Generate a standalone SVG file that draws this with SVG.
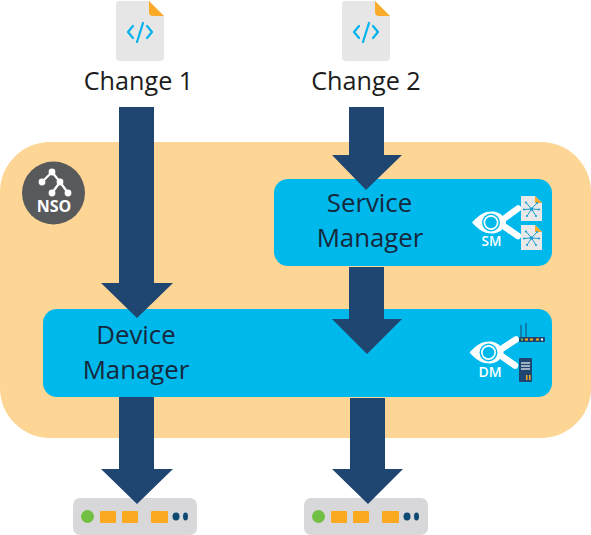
<svg xmlns="http://www.w3.org/2000/svg" width="591" height="535" viewBox="0 0 591 535">
<style>
.arrow{fill:#1f4571}
.mgr{fill:#00b9ec}
.lbl{font-family:"Open Sans","Noto Sans",sans-serif;font-size:25.200px;fill:#1c1c1c;text-anchor:middle}
.mlbl{font-family:"Open Sans","Noto Sans",sans-serif;font-size:25.800px;fill:#15283c;text-anchor:middle}
.tag{font-family:"Open Sans","Liberation Sans",sans-serif;text-anchor:middle;fill:#fff}
.doc{fill:#e6e6e6}.fold{fill:#fbaa2a}
.code{fill:none;stroke:#00b3ec;stroke-width:2.200;stroke-linecap:round;stroke-linejoin:round}
.dev{fill:#d8d8da}.org{fill:#fbaa1f}.dot{fill:#0c4a73}.grn{fill:#72c043}
.w{fill:none;stroke:#fff;stroke-linecap:round}
.sp{fill:none;stroke:#1d9fd0;stroke-width:1}
.spd{fill:#1d9fd0}
</style>
<defs>
<g id="file">
<path class="doc" d="M119 1H149L164 16V57a4 4 0 0 1-4 4H120a4 4 0 0 1-4-4V4a3 3 0 0 1 3-3Z"/>
<path class="fold" d="M149 1L164 16H153a4 4 0 0 1-4-4Z"/>
<path class="code" d="M133 26L128 32L133 38M147 26L152 32L147 38M143 23L137 42"/>
</g>
<g id="device">
<rect class="dev" x="73" y="498" width="124" height="37" rx="7"/>
<circle class="grn" cx="87.500" cy="516.500" r="6.500"/>
<rect class="org" x="100" y="511" width="16" height="12" rx="1"/>
<rect class="org" x="122" y="511" width="16" height="12" rx="1"/>
<rect class="org" x="151" y="511" width="17" height="12" rx="1"/>
<ellipse class="dot" cx="176" cy="516.500" rx="3.500" ry="4"/>
<ellipse class="dot" cx="185.500" cy="516.500" rx="2.500" ry="4"/>
</g>
<g id="eye">
<path d="M-19 0C-12-8-6-11 1-11C6-11 10-9 15-3L15 3C10 9 6 11 1 11C-6 11-12 8-19 0Z" fill="#fff"/>
<circle r="9" fill="#00b9ec"/><circle r="7.500" fill="#fff"/><circle r="5.800" fill="#00b9ec"/>
</g>
<g id="mfile">
<path d="M521 196H535L542 203V221H521Z" fill="#e8e8e8"/>
<path d="M535 196L542 203H535Z" class="fold"/>
<path class="sp" d="M531.500 209L526 202.500M531.500 209L537 203M531.500 209L524 209.500M531.500 209L539 209.500M531.500 209L527 216M531.500 209L536 216"/>
<circle class="spd" cx="531.500" cy="209" r="1.800"/>
<circle class="spd" cx="526" cy="202.500" r="1.100"/><circle class="spd" cx="537" cy="203" r="1.100"/><circle class="spd" cx="524" cy="209.500" r="1.100"/><circle class="spd" cx="539" cy="209.500" r="1.100"/><circle class="spd" cx="527" cy="216" r="1.100"/><circle class="spd" cx="536" cy="216" r="1.100"/>
</g>
</defs>

<g id="nso-platform">
<rect x="0" y="142" width="591" height="296" rx="50" fill="#fdd595"/>
</g>

<g id="nso-badge">
<circle cx="53.500" cy="193" r="31.500" fill="#58595b"/>
<path d="M52 172L42 182M52 172L60 182L68 193M60 182L52 193" fill="none" stroke="#fff" stroke-width="2.200"/>
<circle cx="52" cy="172" r="3.400" fill="#fff"/><circle cx="42" cy="182" r="3.400" fill="#fff"/><circle cx="60" cy="182" r="3.400" fill="#fff"/><circle cx="52" cy="193" r="3.400" fill="#fff"/><circle cx="68" cy="193" r="3.400" fill="#fff"/>
<text class="tag" x="54" y="212" font-size="16" font-weight="bold">NSO</text>
</g>

<g id="service-manager">
<rect class="mgr" x="274" y="179" width="278" height="87" rx="14"/>
<text class="mlbl" x="369.500" y="212">Service</text>
<text class="mlbl" x="370" y="247">Manager</text>
<use href="#eye" x="491" y="222.500"/>
<path class="w" stroke-width="6.500" d="M505 218L518 208.500M505 227L518 236"/>
<use href="#mfile"/>
<use href="#mfile" y="29"/>
<text class="tag" x="491.500" y="246" font-size="13.500" font-weight="600">SM</text>
</g>

<g id="device-manager">
<rect class="mgr" x="43" y="309" width="509" height="88" rx="14"/>
<text class="mlbl" x="136" y="344">Device</text>
<text class="mlbl" x="136" y="379">Manager</text>
<use href="#eye" x="488.500" y="352.500"/>
<path class="w" stroke-width="6.500" d="M503 348L516 339.500M503 357L515 365.500"/>
<g id="dm-router">
<path d="M521 341V325M526 341V323" stroke="#1f4571" stroke-width="1" fill="none"/>
<rect x="519" y="337" width="26" height="5" rx="1" fill="#1f4571"/>
<rect x="521" y="338.500" width="2" height="2" fill="#72c043"/>
<rect x="525" y="338.500" width="3" height="2" fill="#fbaa1f"/><rect x="530" y="338.500" width="3" height="2" fill="#fbaa1f"/><rect x="536" y="338.500" width="3" height="2" fill="#fbaa1f"/>
<rect x="541" y="338.500" width="2" height="2" fill="#fff"/>
</g>
<g id="dm-server">
<rect x="519" y="358" width="13" height="24" rx="1" fill="#1f4571"/>
<rect x="521" y="362" width="9" height="2" fill="#9fb0c0"/><rect x="521" y="365" width="9" height="2" fill="#9fb0c0"/><rect x="521" y="368" width="9" height="2" fill="#9fb0c0"/>
<rect x="526" y="375" width="1.500" height="5" fill="#fbaa1f"/><rect x="529" y="375" width="1.500" height="5" fill="#fbaa1f"/>
</g>
<text class="tag" x="490" y="377" font-size="14" font-weight="600">DM</text>
</g>

<g id="change-1">
<use href="#file"/>
<text class="lbl" x="138.500" y="90">Change 1</text>
</g>
<g id="change-2">
<use href="#file" x="226"/>
<text class="lbl" x="366" y="90">Change 2</text>
</g>

<g id="device-1"><use href="#device"/></g>
<g id="device-2"><use href="#device" x="231"/></g>

<g id="connectors">
<path class="arrow" d="M119 107H154V283H173L137 318L101 283H119Z"/>
<path class="arrow" d="M349 107H384V155H402L366 190L332 155H349Z"/>
<path class="arrow" d="M349 267H384V319H402L367 354L332 319H349Z"/>
<path class="arrow" d="M119 397H154V469H173L137 504L101 469H119Z"/>
<path class="arrow" d="M350 398H385V469H403L368 504L332 469H350Z"/>
</g>
</svg>
